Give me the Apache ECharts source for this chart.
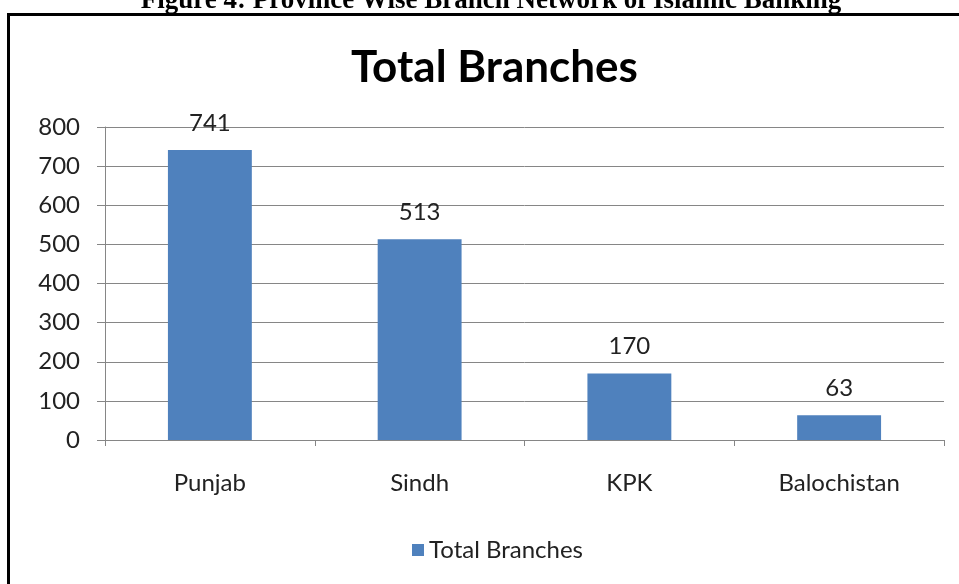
<!DOCTYPE html>
<html>
<head>
<meta charset="utf-8">
<script src="https://cdn.jsdelivr.net/npm/echarts@6/dist/echarts.min.js"></script>
<style>
  html, body { margin: 0; padding: 0; background: #fff; }
  #chart { width: 959px; height: 584px; }
</style>
</head>
<body>
<div id="chart"></div>
<script>
// data
const provinces = ['Punjab', 'Sindh', 'KPK', 'Balochistan'];
const branches = [741, 513, 170, 63];
const seriesName = 'Total Branches';

const chart = echarts.init(document.getElementById('chart'));
const font = 'Lato, "Open Sans", sans-serif';

// the chart box runs past the right edge, so its centre is not the page centre
const boxCenter = 491;

const option = {
  backgroundColor: '#fff',
  animation: false,
  title: {
    text: 'Total Branches',
    left: 346,
    top: 41,
    textStyle: { fontFamily: font, fontSize: 44, fontWeight: 'bold', color: '#000' }
  },
  graphic: [
    {
      type: 'text',
      x: boxCenter,
      y: -12,
      style: {
        text: 'Figure 4: Province Wise Branch Network of Islamic Banking',
        font: 'bold 27px "Liberation Serif", "Times New Roman", serif',
        fill: '#000',
        textAlign: 'center'
      }
    },
    {
      type: 'rect',
      shape: { x: 8.5, y: 14.5, width: 1000, height: 700 },
      style: { fill: 'none', stroke: '#000', lineWidth: 3 }
    }
  ],
  legend: {
    bottom: 17,
    left: 407,
    itemWidth: 12,
    itemHeight: 12,
    itemGap: 8,
    icon: 'rect',
    textStyle: { fontFamily: font, fontSize: 24, color: '#222' },
    data: [seriesName]
  },
  grid: { left: 105, right: 15, top: 127, bottom: 144 },
  xAxis: {
    type: 'category',
    data: provinces,
    axisLine: { lineStyle: { color: '#868686' } },
    axisTick: { show: true, length: 6, alignWithLabel: false, lineStyle: { color: '#868686' } },
    axisLabel: { fontFamily: font, fontSize: 24, color: '#222', margin: 31 }
  },
  yAxis: {
    type: 'value',
    min: 0,
    max: 800,
    interval: 100,
    axisLine: { show: true, lineStyle: { color: '#868686' } },
    axisTick: { show: true, length: 8, lineStyle: { color: '#868686' } },
    splitLine: { lineStyle: { color: '#868686' } },
    axisLabel: { fontFamily: font, fontSize: 24, color: '#222', margin: 25 }
  },
  series: [
    {
      name: seriesName,
      type: 'bar',
      data: branches,
      barWidth: '40%',
      itemStyle: { color: '#4F81BD' },
      label: {
        show: true,
        position: 'top',
        distance: 15,
        fontFamily: font,
        fontSize: 24,
        color: '#222'
      }
    }
  ]
};

chart.setOption(option);
</script>
</body>
</html>
